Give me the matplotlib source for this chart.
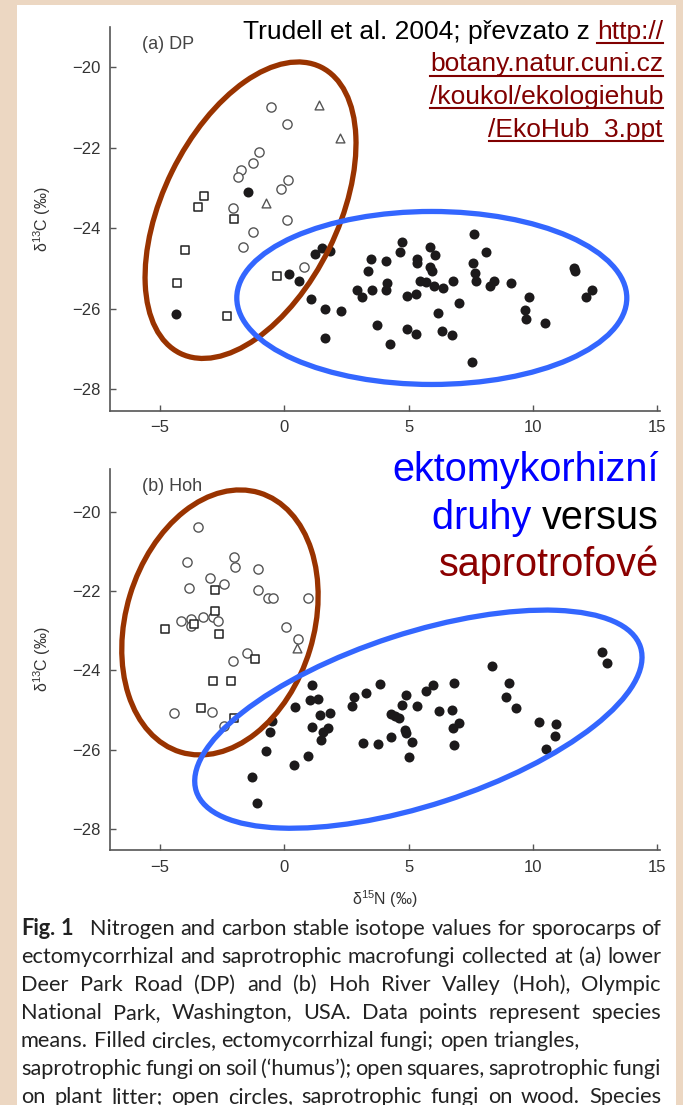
import matplotlib
matplotlib.use("Agg")
import matplotlib.pyplot as plt
import matplotlib.transforms as mtransforms
from matplotlib.patches import Ellipse, Rectangle
from matplotlib.lines import Line2D

W_PX, H_PX, DPI = 683, 1105, 100

# (a) DP, lower Deer Park Road: delta15N (x) and delta13C (y)
dp_ecm_x = [-1.46, -4.37, 0.17, 0.58, 1.09, 1.62, 2.26, 1.62, 1.25, 1.52, 1.85, 3.49, 4.08, 3.36,
            4.72, 4.64, 2.93, 3.11, 3.53, 4.13, 4.08, 3.73, 4.26, 5.32, 5.34, 5.87, 6.05, 5.85,
            5.92, 5.44, 5.69, 6.01, 6.38, 6.79, 4.95, 5.28, 7.02, 6.16, 4.95, 5.28, 6.35, 6.75,
            7.62, 8.11, 7.58, 7.65, 7.70, 8.27, 8.43, 9.10, 9.83, 9.67, 9.71, 10.50, 11.64,
            11.68, 12.12, 12.38, 7.53]
dp_ecm_y = [-23.11, -26.13, -25.14, -25.31, -25.75, -26.00, -26.05, -26.72, -24.65, -24.48,
            -24.56, -24.77, -24.80, -25.06, -24.34, -24.58, -25.53, -25.71, -25.52, -25.35,
            -25.53, -26.39, -26.87, -24.75, -24.85, -24.46, -24.66, -24.95, -25.05, -25.30,
            -25.33, -25.43, -25.48, -25.31, -25.67, -25.64, -25.86, -26.10, -26.49, -26.63,
            -26.54, -26.66, -24.13, -24.59, -24.87, -25.12, -25.31, -25.43, -25.31, -25.35,
            -25.71, -26.03, -26.26, -26.36, -24.99, -25.05, -25.71, -25.54, -27.32]
dp_humus_x = [1.41, 2.23, -0.74]
dp_humus_y = [-20.94, -21.76, -23.38]
dp_litter_x = [-3.24, -3.47, -2.01, -4.01, -4.32, -2.29, -0.29]
dp_litter_y = [-23.20, -23.48, -23.76, -24.53, -25.37, -26.17, -25.18]
dp_wood_x = [-0.54, 0.09, -1.00, -1.27, -1.76, -1.85, 0.13, -0.15, -2.08, 0.12, -1.27, -1.65, 0.78]
dp_wood_y = [-20.99, -21.40, -22.10, -22.37, -22.54, -22.72, -22.80, -23.03, -23.49, -23.79,
             -24.08, -24.46, -24.95]

# (b) Hoh River Valley
hoh_ecm_x = [12.77, 12.97, 8.37, 9.05, 8.91, 9.32, 10.26, 10.92, 10.89, 10.51, 6.83, 5.97, 5.70,
             3.85, 3.27, 2.82, 2.71, 4.90, 4.72, 5.35, 4.28, 4.45, 4.61, 6.21, 6.73, 7.01, 6.77,
             6.83, 4.86, 4.91, 5.15, 5.00, 4.29, 3.77, 3.18, 1.10, 1.03, 1.34, 0.43, 1.44, 1.84,
             1.13, 1.74, 1.54, 1.48, -0.51, -0.58, -0.74, 0.94, 0.38, -1.31, -1.11]
hoh_ecm_y = [-23.53, -23.82, -23.89, -24.33, -24.67, -24.96, -25.31, -25.34, -25.65, -25.98,
             -24.33, -24.38, -24.51, -24.35, -24.56, -24.68, -24.90, -24.63, -24.88, -24.90,
             -25.09, -25.14, -25.20, -25.03, -25.00, -25.32, -25.46, -25.87, -25.51, -25.59,
             -25.80, -26.18, -25.69, -25.86, -25.82, -24.37, -24.75, -24.71, -24.93, -25.13,
             -25.07, -25.42, -25.45, -25.55, -25.76, -25.28, -25.56, -26.03, -26.16, -26.39,
             -26.70, -27.35]
hoh_humus_x = [0.50]
hoh_humus_y = [-23.43]
hoh_litter_x = [-2.80, -2.77, -4.79, -3.63, -2.61, -1.17, -2.86, -2.14, -3.36, -2.01]
hoh_litter_y = [-21.97, -22.50, -22.96, -22.83, -23.09, -23.71, -24.26, -24.26, -24.96, -25.21]
hoh_wood_x = [-3.47, -3.91, -2.01, -1.98, -1.07, -2.99, -2.41, -3.83, -1.05, -0.67, -0.47, 0.95,
              -4.16, -3.74, -3.77, -3.27, -2.88, -2.68, 0.05, 0.55, -1.51, -2.05, -4.45, -2.90,
              -2.43]
hoh_wood_y = [-20.39, -21.27, -21.15, -21.38, -21.45, -21.66, -21.82, -21.92, -21.96, -22.17,
              -22.17, -22.18, -22.76, -22.71, -22.88, -22.65, -22.65, -22.76, -22.91, -23.20,
              -23.55, -23.76, -25.08, -25.04, -25.40]

x_ticks = [-5, 0, 5, 10, 15]
y_ticks = [-28, -26, -24, -22, -20]

# outlines drawn over the figure: centre (data units), width, height (inches), angle
dp_rings = [((-1.36, -23.55), 3.19, 1.75, 63.8, "#993300"),
            ((5.93, -25.73), 3.90, 1.73, 0.0, "#3366ff")]
hoh_rings = [((-2.59, -22.79), 2.71, 1.88, 73.1, "#993300"),
             ((5.39, -25.23), 4.67, 1.72, 18.0, "#3366ff")]

# caption lines; "Fig. 1" is set in bold, flag = justified
caption = [
    ("Fig. 1  Nitrogen and carbon stable isotope values for sporocarps of", True),
    ("ectomycorrhizal and saprotrophic macrofungi collected at (a) lower", True),
    ("Deer Park Road (DP) and (b) Hoh River Valley (Hoh), Olympic", True),
    ("National Park, Washington, USA. Data points represent species", True),
    ("means. Filled circles, ectomycorrhizal fungi; open triangles,", False),
    ("saprotrophic fungi on soil (\u2018humus\u2019); open squares, saprotrophic fungi", True),
    ("on plant litter; open circles, saprotrophic fungi on wood. Species", True),
]

plt.rcParams["font.family"] = ["Liberation Sans", "DejaVu Sans"]
plt.rcParams["mathtext.fontset"] = "custom"
plt.rcParams["mathtext.rm"] = "Liberation Sans"
plt.rcParams["mathtext.it"] = "Liberation Sans:italic"

fig = plt.figure(figsize=(W_PX / DPI, H_PX / DPI), dpi=DPI, facecolor="#ecd7c2")
fig.patches.append(Rectangle((17 / W_PX, 0), (676 - 17) / W_PX, 1100 / H_PX,
                             transform=fig.transFigure, facecolor="white",
                             edgecolor="none", zorder=-5))


def px(x, y):
    """Pixel position (from top-left) to figure fraction."""
    return x / W_PX, 1 - y / H_PX


def panel(rect, ylim, label, ecm, humus, litter, wood, rings):
    ax = fig.add_axes(rect)
    ax.set_zorder(2)
    ax.set_facecolor("none")
    ax.scatter(*wood, s=44, facecolor="white", edgecolor="#555555", linewidth=1.0, zorder=3)
    ax.scatter(*litter, marker="s", s=34, facecolor="white", edgecolor="#222222",
               linewidth=1.1, zorder=3)
    ax.scatter(*humus, marker="^", s=40, facecolor="white", edgecolor="#555555",
               linewidth=1.0, zorder=3)
    ax.scatter(*ecm, s=52, color="#1c1a1b", linewidth=0, zorder=4)

    ax.set_xlim(-7, 15.1)
    ax.set_ylim(*ylim)
    ax.set_xticks(x_ticks)
    ax.set_yticks(y_ticks)
    ax.tick_params(direction="in", length=4.5, width=1, color="#555555",
                   labelsize=12, labelcolor="#333333", pad=7)
    for side in ("top", "right"):
        ax.spines[side].set_visible(False)
    for side in ("left", "bottom"):
        ax.spines[side].set_color("#555555")
        ax.spines[side].set_linewidth(1.2)

    ax.set_ylabel("\u03b4$^{13}$C (‰)", fontsize=11.5, color="#333333")
    ax.yaxis.set_label_coords(-0.104, 0.5)
    ax.text(0.057, 0.955, label, transform=ax.transAxes, fontsize=13,
            color="#444444", va="center", ha="left")

    for (cx, cy), w, h, ang, col in rings:
        tr = fig.dpi_scale_trans + mtransforms.ScaledTranslation(cx, cy, ax.transData)
        ax.add_patch(Ellipse((0, 0), w, h, angle=ang, transform=tr, fill=False,
                             edgecolor=col, linewidth=3.8, clip_on=False, zorder=6))
    return ax


left, right = 110.3, 659.8
ax_a = panel([left / W_PX, 1 - 410.7 / H_PX, (right - left) / W_PX, (410.7 - 27) / H_PX],
             (-28.53, -19.0), "(a) DP", (dp_ecm_x, dp_ecm_y), (dp_humus_x, dp_humus_y),
             (dp_litter_x, dp_litter_y), (dp_wood_x, dp_wood_y), dp_rings)
ax_b = panel([left / W_PX, 1 - 850 / H_PX, (right - left) / W_PX, (850 - 469) / H_PX],
             (-28.53, -18.92), "(b) Hoh", (hoh_ecm_x, hoh_ecm_y), (hoh_humus_x, hoh_humus_y),
             (hoh_litter_x, hoh_litter_y), (hoh_wood_x, hoh_wood_y), hoh_rings)
ax_b.set_xlabel("\u03b4$^{15}$N (‰)", fontsize=11.5, color="#333333", labelpad=10)

renderer = fig.canvas.get_renderer()


def underline(t, y_base, color):
    bb = t.get_window_extent(renderer)
    y = 1 - (y_base + 4) / H_PX
    fig.add_artist(Line2D([bb.x0 / W_PX, bb.x1 / W_PX], [y, y], color=color,
                          linewidth=1.5, transform=fig.transFigure))


def right_pair(x_right, y_base, first, second, c1, c2, size):
    """Two-coloured line, right aligned; returns the right-hand text."""
    t2 = fig.text(*px(x_right, y_base), second, color=c2, fontsize=size,
                  ha="right", va="baseline")
    bb = t2.get_window_extent(renderer)
    fig.text(bb.x0 / W_PX, 1 - y_base / H_PX, first, color=c1, fontsize=size,
             ha="right", va="baseline")
    return t2


# source note, top right
link = "#800000"
t = right_pair(663, 39, "Trudell et al. 2004; p\u0159evzato z ", "http://", "black", link, 19)
underline(t, 39, link)
for i, s in enumerate(["botany.natur.cuni.cz", "/koukol/ekologiehub", "/EkoHub_3.ppt"]):
    yb = 39 + 32.5 * (i + 1)
    t = fig.text(*px(663, yb), s, color=link, fontsize=19, ha="right", va="baseline")
    underline(t, yb, link)

# big annotation
fig.text(*px(659, 481), "ektomykorhizn\u00ed", color="#0000ff", fontsize=28.5,
         ha="right", va="baseline")
right_pair(659, 529, "druhy ", "versus", "#0000ff", "black", 28.5)
fig.text(*px(659, 576), "saprotrofov\u00e9", color="#8b0000", fontsize=28.5,
         ha="right", va="baseline")

# figure caption, set word by word so that lines are justified
cap_font = ["Lato", "DejaVu Sans"]
cap_col = "#222222"
x0, x1, y0, lead = 21, 661, 935, 28


def text_width(s, size, bold=False):
    t = fig.text(0, 0, s, family=cap_font, fontsize=size,
                 weight="bold" if bold else "normal")
    w = t.get_window_extent(renderer).width
    t.remove()
    return w


# calibrate: line 2 set with normal spacing spans the full measure
cap_size = 14 * (x1 - x0) / text_width(caption[1][0], 14)

for i, (line, justified) in enumerate(caption):
    words = line.split(" ")
    bold_n = 2 if i == 0 else 0
    if i == 0:
        words = ["Fig.", "1", "\u2002" + words[3]] + words[4:]
    size = cap_size
    space = text_width("a a", size) - text_width("aa", size)
    widths = [text_width(wd, size, k < bold_n) for k, wd in enumerate(words)]
    gap = space
    if justified:
        gap = (x1 - x0 - sum(widths)) / (len(words) - 1)
        if gap < 0.6 * space:
            size = size * (x1 - x0) / (sum(widths) + 0.6 * space * (len(words) - 1))
            space = text_width("a a", size) - text_width("aa", size)
            widths = [text_width(wd, size, k < bold_n) for k, wd in enumerate(words)]
            gap = (x1 - x0 - sum(widths)) / (len(words) - 1)
    xx = x0
    yb = y0 + lead * i
    for k, (wd, ww) in enumerate(zip(words, widths)):
        fig.text(*px(xx, yb), wd, family=cap_font, fontsize=size, color=cap_col,
                 weight="bold" if k < bold_n else "normal", va="baseline")
        xx += ww + gap

fig.savefig("out.png", dpi=DPI, facecolor=fig.get_facecolor())
